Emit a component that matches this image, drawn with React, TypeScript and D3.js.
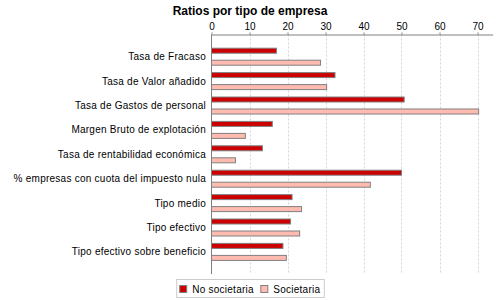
import React, { useRef, useEffect } from 'react';
import * as d3 from 'd3';

const categories = [
  'Tasa de Fracaso',
  'Tasa de Valor añadido',
  'Tasa de Gastos de personal',
  'Margen Bruto de explotación',
  'Tasa de rentabilidad económica',
  '% empresas con cuota del impuesto nula',
  'Tipo medio',
  'Tipo efectivo',
  'Tipo efectivo sobre beneficio',
];
const seriesNames = ['No societaria', 'Societaria'];
const noSocietaria = [17.1, 32.5, 50.7, 16.0, 13.4, 50.0, 21.2, 20.8, 18.8];
const societaria = [28.7, 30.3, 70.3, 8.9, 6.3, 41.8, 23.7, 23.2, 19.7];
const xTicks = [0, 10, 20, 30, 40, 50, 60, 70];
const colors = ['#cc0000', '#ffbbb0'];

const FONT = '"Liberation Sans", Arial, sans-serif';

const App = () => {
  const chart = useRef<SVGSVGElement>(null);

  useEffect(() => {
    const svg = d3.select(chart.current);
    svg.selectAll('*').remove();

    const left = 211.5, right = 492.7, top = 34.5, bottom = 274;

    const x = d3.scaleLinear().domain([0, 74]).range([left, right]);
    const y = d3.scaleBand<string>().domain(categories).range([44.5, 264.1]).padding(0);
    const ySub = d3.scaleBand<string>().domain(seriesNames).range([-9, 9]).paddingInner(0.5);

    // title
    svg.append('text')
      .attr('x', 250)
      .attr('y', 15)
      .attr('text-anchor', 'middle')
      .style('font', `bold 12px ${FONT}`)
      .text('Ratios por tipo de empresa');

    // grid
    svg.append('g')
      .selectAll('line')
      .data(xTicks.slice(1))
      .enter()
      .append('line')
      .attr('x1', d => Math.round(x(d)) + 0.5)
      .attr('x2', d => Math.round(x(d)) + 0.5)
      .attr('y1', top)
      .attr('y2', bottom)
      .attr('stroke', '#d4d4d4')
      .attr('stroke-dasharray', '2,2');

    // top axis
    const axis = svg.append('g')
      .attr('transform', `translate(0, ${top})`)
      .call(d3.axisTop(x).tickValues(xTicks).tickSize(2).tickSizeOuter(0).tickPadding(3));
    axis.select('.domain').attr('stroke', '#808080');
    axis.selectAll('.tick line').attr('stroke', '#808080');
    axis.selectAll('.tick text')
      .style('font', `10px ${FONT}`)
      .attr('fill', '#000');

    // left axis line
    svg.append('line')
      .attr('x1', left).attr('x2', left)
      .attr('y1', top).attr('y2', bottom)
      .attr('stroke', '#808080');

    // category labels
    svg.append('g')
      .selectAll('text')
      .data(categories)
      .enter()
      .append('text')
      .attr('x', 206)
      .attr('y', d => (y(d) as number) + y.bandwidth() / 2)
      .attr('dy', '0.35em')
      .attr('text-anchor', 'end')
      .style('font', `10px ${FONT}`)
      .style('letter-spacing', '0.25px')
      .text(d => d);

    // bars
    const values = [noSocietaria, societaria];
    seriesNames.forEach((s, si) => {
      svg.append('g')
        .selectAll('rect')
        .data(values[si])
        .enter()
        .append('rect')
        .attr('x', x(0))
        .attr('y', (d, i) => (y(categories[i]) as number) + y.bandwidth() / 2 + (ySub(s) as number) + 0.5)
        .attr('width', d => x(d) - x(0))
        .attr('height', ySub.bandwidth() - 1)
        .attr('fill', colors[si])
        .attr('stroke', '#808080')
        .attr('stroke-width', 1);
    });

    // legend
    const legend = svg.append('g');
    const box = legend.append('rect')
      .attr('fill', 'none')
      .attr('stroke', '#cccccc');
    let cx = 0;
    const items: { g: any, w: number }[] = [];
    seriesNames.forEach((s, si) => {
      const g = legend.append('g');
      g.append('rect')
        .attr('x', cx).attr('y', -3.5)
        .attr('width', 7).attr('height', 7)
        .attr('fill', colors[si])
        .attr('stroke', '#808080');
      const t = g.append('text')
        .attr('x', cx + 12.5)
        .attr('dy', '0.35em')
        .style('font', `10px ${FONT}`)
        .style('letter-spacing', '0.25px')
        .text(s);
      const tw = (t.node() as SVGTextElement).getComputedTextLength();
      cx += 12.5 + tw + 7;
      items.push({ g, w: tw });
    });
    const contentW = cx - 7;
    const boxW = contentW + 8;
    const boxX = 250.5 - boxW / 2;
    legend.attr('transform', `translate(${boxX + 3.5}, 289)`);
    box.attr('x', -3.5 + 0.5).attr('y', -9.5).attr('width', boxW - 1).attr('height', 18);
  }, []);

  return (
    <svg ref={chart} width={500} height={300}
      style={{ position: 'absolute', left: 0, top: 0, background: '#fff' }}></svg>
  );
};

export default App;
